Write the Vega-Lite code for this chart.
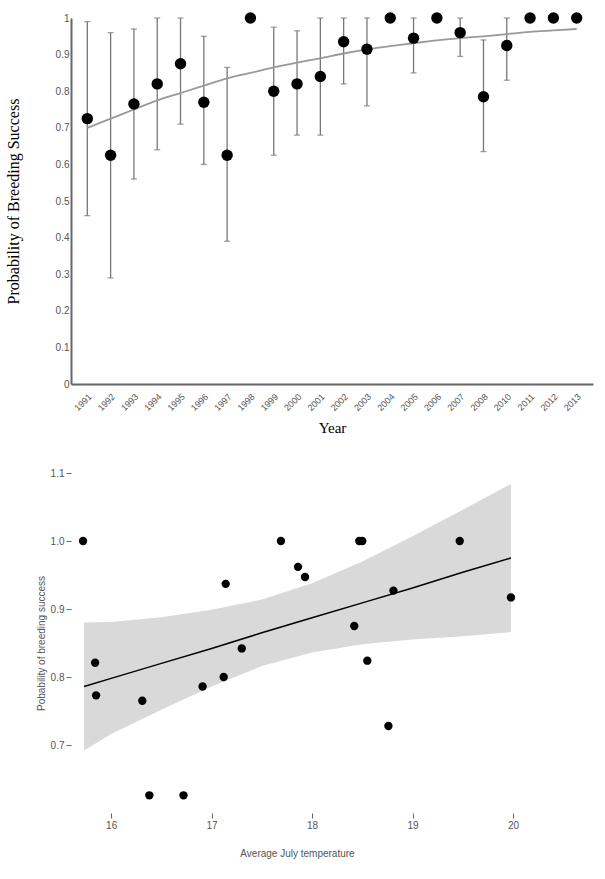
{
  "$schema": "https://vega.github.io/schema/vega-lite/v6.json",
  "background": "white",
  "padding": {"left": 5, "top": 12, "right": 2, "bottom": 5},
  "spacing": 32,
  "config": {"view": {"stroke": null}, "axis": {"grid": false}},
  "datasets": {
    "years": [
      {"Year": "1991", "p": 0.725, "lo": 0.46, "hi": 0.99, "fit": 0.700},
      {"Year": "1992", "p": 0.625, "lo": 0.29, "hi": 0.96, "fit": 0.725},
      {"Year": "1993", "p": 0.765, "lo": 0.56, "hi": 0.97, "fit": 0.750},
      {"Year": "1994", "p": 0.82, "lo": 0.64, "hi": 1.0, "fit": 0.775},
      {"Year": "1995", "p": 0.875, "lo": 0.71, "hi": 1.0, "fit": 0.795},
      {"Year": "1996", "p": 0.77, "lo": 0.60, "hi": 0.95, "fit": 0.815},
      {"Year": "1997", "p": 0.625, "lo": 0.39, "hi": 0.865, "fit": 0.835},
      {"Year": "1998", "p": 1.0, "fit": 0.850},
      {"Year": "1999", "p": 0.80, "lo": 0.625, "hi": 0.975, "fit": 0.865},
      {"Year": "2000", "p": 0.82, "lo": 0.68, "hi": 0.965, "fit": 0.878},
      {"Year": "2001", "p": 0.84, "lo": 0.68, "hi": 1.0, "fit": 0.890},
      {"Year": "2002", "p": 0.935, "lo": 0.82, "hi": 1.0, "fit": 0.903},
      {"Year": "2003", "p": 0.915, "lo": 0.76, "hi": 1.0, "fit": 0.914},
      {"Year": "2004", "p": 1.0, "fit": 0.923},
      {"Year": "2005", "p": 0.945, "lo": 0.85, "hi": 1.0, "fit": 0.931},
      {"Year": "2006", "p": 1.0, "fit": 0.939},
      {"Year": "2007", "p": 0.96, "lo": 0.895, "hi": 1.0, "fit": 0.945},
      {"Year": "2008", "p": 0.785, "lo": 0.635, "hi": 0.94, "fit": 0.950},
      {"Year": "2010", "p": 0.925, "lo": 0.83, "hi": 1.0, "fit": 0.956},
      {"Year": "2011", "p": 1.0, "fit": 0.962},
      {"Year": "2012", "p": 1.0, "fit": 0.966},
      {"Year": "2013", "p": 1.0, "fit": 0.970}
    ],
    "temp": [
      {"t": 15.72, "p": 1.0}, {"t": 15.84, "p": 0.821}, {"t": 15.85, "p": 0.773},
      {"t": 16.31, "p": 0.765}, {"t": 16.38, "p": 0.626}, {"t": 16.72, "p": 0.626},
      {"t": 16.91, "p": 0.786}, {"t": 17.12, "p": 0.80}, {"t": 17.14, "p": 0.937},
      {"t": 17.30, "p": 0.842}, {"t": 17.69, "p": 1.0}, {"t": 17.86, "p": 0.962},
      {"t": 17.93, "p": 0.947}, {"t": 18.42, "p": 0.875}, {"t": 18.47, "p": 1.0},
      {"t": 18.50, "p": 1.0}, {"t": 18.55, "p": 0.824}, {"t": 18.76, "p": 0.728},
      {"t": 18.81, "p": 0.927}, {"t": 19.47, "p": 1.0}, {"t": 19.98, "p": 0.917}
    ],
    "band": [
      {"t": 15.73, "fit": 0.786, "lo": 0.692, "hi": 0.880},
      {"t": 16.0, "fit": 0.798, "lo": 0.716, "hi": 0.881},
      {"t": 16.5, "fit": 0.820, "lo": 0.752, "hi": 0.888},
      {"t": 17.0, "fit": 0.842, "lo": 0.786, "hi": 0.899},
      {"t": 17.5, "fit": 0.865, "lo": 0.816, "hi": 0.914},
      {"t": 18.0, "fit": 0.887, "lo": 0.836, "hi": 0.938},
      {"t": 18.5, "fit": 0.909, "lo": 0.848, "hi": 0.970},
      {"t": 19.0, "fit": 0.931, "lo": 0.855, "hi": 1.007},
      {"t": 19.5, "fit": 0.954, "lo": 0.860, "hi": 1.046},
      {"t": 19.98, "fit": 0.975, "lo": 0.866, "hi": 1.084}
    ]
  },
  "vconcat": [
    {
      "width": 522,
      "height": 366,
      "data": {"name": "years"},
      "encoding": {
        "x": {
          "field": "Year", "type": "ordinal", "title": "Year",
          "scale": {"paddingOuter": 0.2},
          "axis": {"labelAngle": -45, "labelFontSize": 9, "labelColor": "#555", "ticks": false,
            "domainColor": "#666", "domainWidth": 2, "titleFont": "Liberation Serif",
            "titleFontSize": 15, "titleFontWeight": "normal", "titlePadding": 8, "labelPadding": 8}
        }
      },
      "layer": [
        {
          "mark": {"type": "rule", "color": "#777", "strokeWidth": 1.3},
          "encoding": {
            "y": {
              "field": "lo", "type": "quantitative", "title": "Probability of Breeding Success",
              "scale": {"domain": [0, 1], "nice": false},
              "axis": {"tickCount": 10, "format": "~g", "labelOverlap": false, "ticks": false,
                "labelColor": "#555", "labelFontSize": 10, "domainColor": "#666", "domainWidth": 2,
                "titleFont": "Liberation Serif", "titleFontSize": 16, "titleFontWeight": "normal",
                "titlePadding": 34}
            },
            "y2": {"field": "hi"}
          }
        },
        {
          "mark": {"type": "tick", "color": "#777", "size": 6, "thickness": 1.3},
          "encoding": {"y": {"field": "lo", "type": "quantitative"}}
        },
        {
          "mark": {"type": "tick", "color": "#777", "size": 6, "thickness": 1.3},
          "encoding": {"y": {"field": "hi", "type": "quantitative"}}
        },
        {
          "mark": {"type": "line", "color": "#999", "strokeWidth": 1.8, "interpolate": "monotone"},
          "encoding": {"y": {"field": "fit", "type": "quantitative"}}
        },
        {
          "mark": {"type": "circle", "color": "black", "opacity": 1, "size": 130},
          "encoding": {"y": {"field": "p", "type": "quantitative"}}
        }
      ]
    },
    {
      "width": 452,
      "height": 340,
      "layer": [
        {
          "data": {"name": "band"},
          "mark": {"type": "area", "color": "#d9d9d9", "opacity": 1},
          "encoding": {
            "x": {
              "field": "t", "type": "quantitative", "title": "Average July temperature",
              "scale": {"domain": [15.6, 20.1], "nice": false, "zero": false},
              "axis": {"values": [16, 17, 18, 19, 20], "format": "d", "labelColor": "#555", "labelFontSize": 10,
                "domain": false, "tickColor": "#666", "titleFont": "Liberation Sans", "titleFontSize": 10,
                "titleFontWeight": "normal", "titleColor": "#555", "titlePadding": 18}
            },
            "y": {
              "field": "lo", "type": "quantitative", "title": "Pobability of breeding success",
              "scale": {"domain": [0.6, 1.1], "nice": false, "zero": false},
              "axis": {"values": [0.7, 0.8, 0.9, 1.0, 1.1], "format": ".1f", "labelColor": "#555",
                "labelFontSize": 10, "domain": false, "tickColor": "#666", "titleFont": "Liberation Sans",
                "titleFontSize": 10, "titleFontWeight": "normal", "titleColor": "#555", "titlePadding": 4}
            },
            "y2": {"field": "hi"}
          }
        },
        {
          "data": {"name": "band"},
          "mark": {"type": "line", "color": "black", "strokeWidth": 1.5},
          "encoding": {
            "x": {"field": "t", "type": "quantitative"},
            "y": {"field": "fit", "type": "quantitative"}
          }
        },
        {
          "data": {"name": "temp"},
          "mark": {"type": "circle", "color": "black", "opacity": 1, "size": 70},
          "encoding": {
            "x": {"field": "t", "type": "quantitative"},
            "y": {"field": "p", "type": "quantitative"}
          }
        }
      ]
    }
  ]
}
